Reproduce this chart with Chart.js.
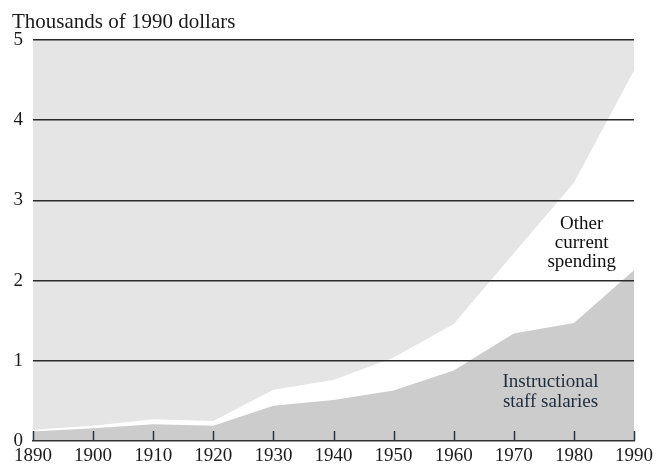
<!DOCTYPE html>
<html>
<head>
<meta charset="utf-8">
<script src="https://cdn.jsdelivr.net/npm/chart.js@4"></script>
<style>
html,body{margin:0;padding:0;background:#fff;}
#wrap{width:657px;height:468px;position:relative;}
</style>
</head>
<body>
<div id="wrap"><canvas id="c" width="657" height="468"></canvas></div>
<script>
const years = [1890, 1900, 1910, 1920, 1930, 1940, 1950, 1960, 1970, 1980, 1990];
const totalSpending = [0.14, 0.19, 0.27, 0.25, 0.64, 0.76, 1.04, 1.46, 2.34, 3.22, 4.62];
const staffSalaries = [0.12, 0.16, 0.21, 0.19, 0.44, 0.51, 0.63, 0.88, 1.34, 1.47, 2.13];
const yTicks = [0, 1, 2, 3, 4, 5];
const axisTitle = "Thousands of 1990 dollars";
const otherLabel = ["Other", "current", "spending"];
const salaryLabel = ["Instructional", "staff salaries"];

const FONT = "'Liberation Serif', 'Times New Roman', serif";

const bgPlugin = {
  id: 'bg',
  beforeDraw(chart) {
    const {ctx, chartArea: a} = chart;
    ctx.save();
    ctx.fillStyle = '#e5e5e5';
    ctx.fillRect(a.left, a.top, a.right - a.left, a.bottom - a.top);
    ctx.restore();
  }
};

const annotPlugin = {
  id: 'annot',
  afterDraw(chart) {
    const {ctx, chartArea: a} = chart;
    const xs = chart.scales.x, ys = chart.scales.y;
    ctx.save();
    // inward tick marks on x axis
    ctx.strokeStyle = '#2b3540';
    ctx.lineWidth = 1.5;
    years.forEach(v => {
      const px = Math.round(xs.getPixelForValue(v)) + 0.5;
      ctx.beginPath();
      ctx.moveTo(px, a.bottom);
      ctx.lineTo(px, a.bottom - 10);
      ctx.stroke();
    });
    // title
    ctx.fillStyle = '#1a1a1a';
    ctx.font = "21px " + FONT;
    ctx.textBaseline = 'alphabetic';
    ctx.textAlign = 'left';
    ctx.fillText(axisTitle, 12, 28);
    // series labels
    ctx.textAlign = 'center';
    ctx.font = "19px " + FONT;
    ctx.fillStyle = '#111';
    const ox = xs.getPixelForValue(1981.3);
    const oy = ys.getPixelForValue(2.64);
    otherLabel.forEach((t, i) => ctx.fillText(t, ox, oy + i * 19));
    ctx.fillStyle = '#1f2b3a';
    const sx = xs.getPixelForValue(1976.1);
    const sy = ys.getPixelForValue(0.67);
    salaryLabel.forEach((t, i) => ctx.fillText(t, sx, sy + i * 20));
    ctx.restore();
  }
};

new Chart(document.getElementById('c'), {
  type: 'line',
  data: {
    labels: years,
    datasets: [
      {
        label: 'Instructional staff salaries',
        data: years.map((y, i) => ({x: y, y: staffSalaries[i]})),
        fill: 'origin',
        backgroundColor: '#cccccc',
        borderWidth: 0,
        pointRadius: 0,
        tension: 0,
        order: 1
      },
      {
        label: 'Other current spending',
        data: years.map((y, i) => ({x: y, y: totalSpending[i]})),
        fill: 'origin',
        backgroundColor: '#ffffff',
        borderWidth: 0,
        pointRadius: 0,
        tension: 0,
        order: 2
      }
    ]
  },
  options: {
    responsive: false,
    animation: false,
    layout: {padding: {left: 0, right: 21, top: 40, bottom: 0}},
    plugins: {legend: {display: false}, tooltip: {enabled: false}, title: {display: false}},
    scales: {
      x: {
        type: 'linear',
        min: 1890, max: 1990,
        afterBuildTicks: s => { s.ticks = years.map(v => ({value: v})); },
        afterFit: s => { s.height = 27; },
        grid: {display: true, drawOnChartArea: false, drawTicks: false},
        border: {display: true, color: '#333333', width: 1.5, z: 1},
        ticks: {
          callback: v => String(v),
          color: '#1a1a1a',
          font: {family: FONT, size: 19},
          padding: 4,
          maxRotation: 0,
          autoSkip: false
        }
      },
      y: {
        min: 0, max: 5,
        afterBuildTicks: s => { s.ticks = yTicks.map(v => ({value: v})); },
        afterFit: s => { s.width = 33; },
        grid: {
          z: 1,
          drawTicks: false,
          color: ctx => ctx.tick && ctx.tick.value === 0 ? 'rgba(0,0,0,0)' : '#2a2a2a',
          lineWidth: 1.5
        },
        border: {display: false},
        ticks: {
          color: '#1a1a1a',
          font: {family: FONT, size: 19},
          padding: 10
        }
      }
    }
  },
  plugins: [bgPlugin, annotPlugin]
});
</script>
</body>
</html>
